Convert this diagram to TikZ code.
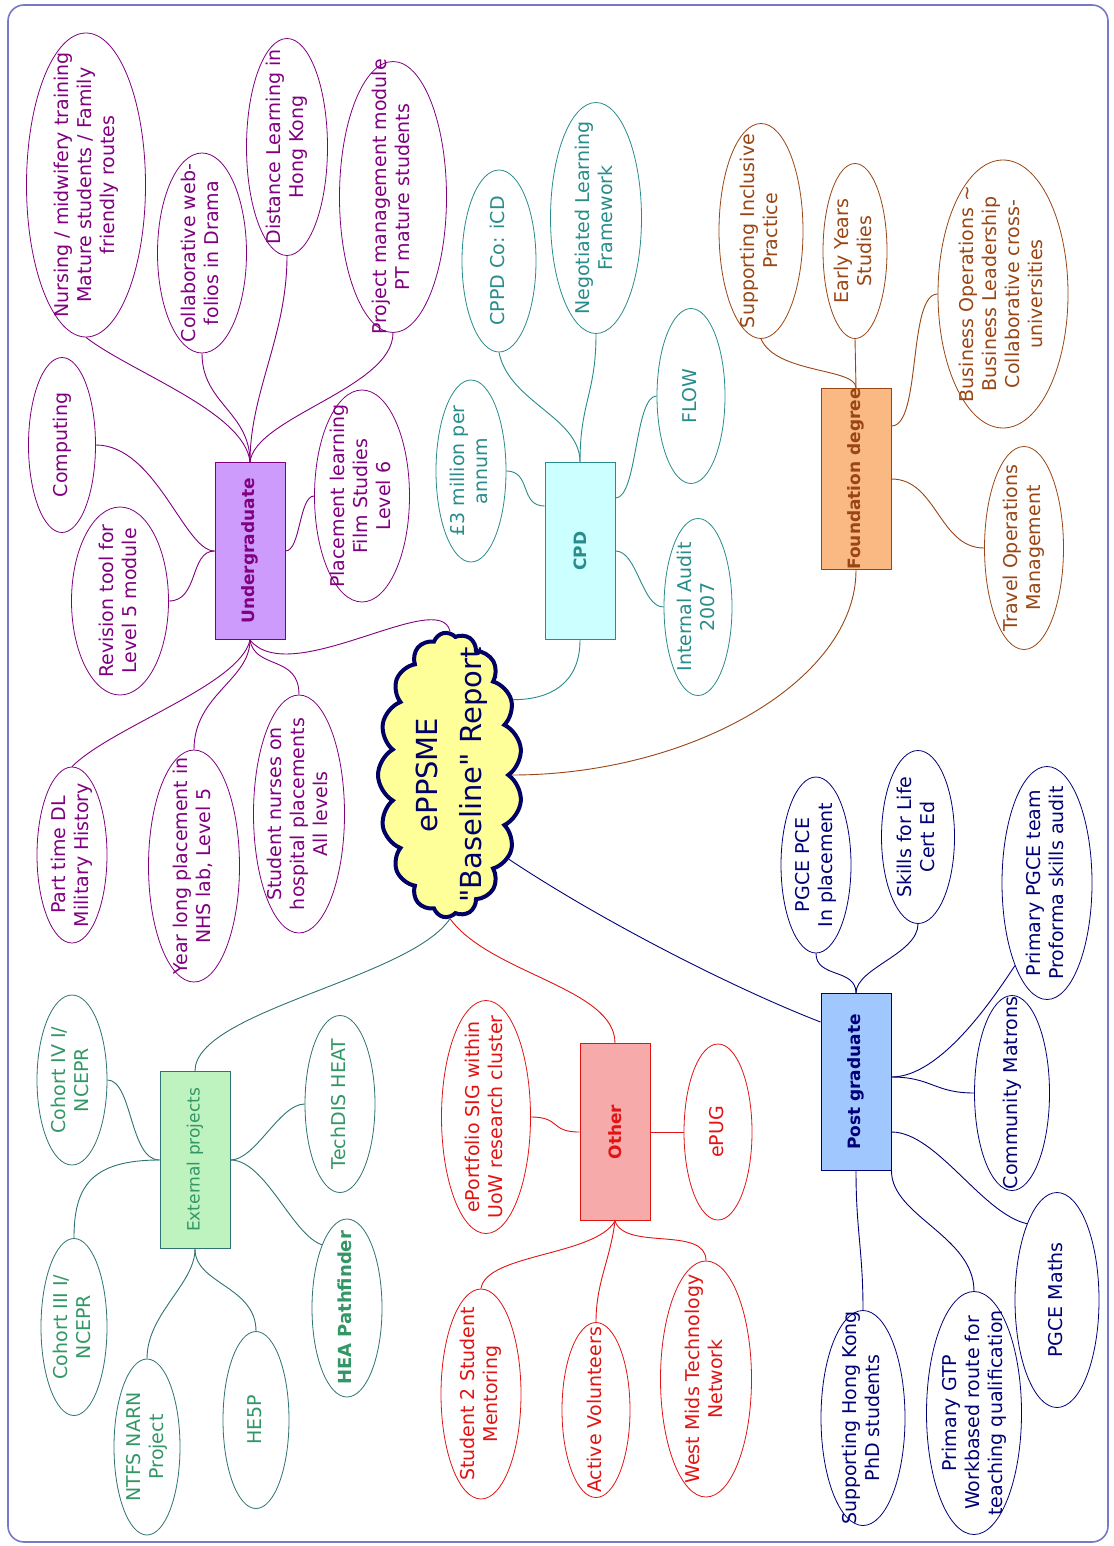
\documentclass[tikz,border=0pt]{standalone}
\usepackage{fontspec}
\setmainfont{DejaVu Sans}
\usetikzlibrary{shapes.geometric,shapes.symbols}

\definecolor{ugc}{RGB}{128,0,128}
\definecolor{ugfill}{RGB}{204,155,252}
\definecolor{cpdc}{RGB}{40,140,140}
\definecolor{cpdfill}{RGB}{204,255,255}
\definecolor{fdc}{RGB}{153,70,20}
\definecolor{fdfill}{RGB}{250,185,130}
\definecolor{pgc}{RGB}{0,0,120}
\definecolor{pgfill}{RGB}{160,200,255}
\definecolor{othc}{RGB}{225,20,20}
\definecolor{othfill}{RGB}{247,170,170}
\definecolor{extc}{RGB}{51,150,102}
\definecolor{extl}{RGB}{47,115,115}
\definecolor{extfill}{RGB}{190,242,190}
\definecolor{cloudfill}{RGB}{255,255,153}
\definecolor{cloudc}{RGB}{0,0,102}
\definecolor{framec}{RGB}{120,120,200}

\newcommand{\ideatext}[1]{\makebox[0pt]{\smash{\raisebox{-.25em}{\begin{tabular}{@{}c@{}}#1\end{tabular}}}}}

\tikzset{
  idea/.style={ellipse, draw, rotate=90, inner sep=0pt, line width=.8pt,
    font=\fontsize{19pt}{23pt}\selectfont},
  esize/.style 2 args={minimum height=#1pt, minimum width=#2pt},
  topic/.style={rectangle, draw, rotate=90, inner sep=0pt, line width=1pt,
    minimum width=177pt, minimum height=70pt,
    font=\bfseries\fontsize{17pt}{20pt}\selectfont},
  ugn/.style={draw=ugc, text=ugc},
  cpdn/.style={draw=cpdc, text=cpdc},
  fdn/.style={draw=fdc, text=fdc},
  pgn/.style={draw=pgc, text=pgc},
  othn/.style={draw=othc, text=othc},
  extn/.style={draw=extl, text=extc},
  link/.style={line width=.9pt},
}

\begin{document}
\begin{tikzpicture}[x=1pt, y=-1pt]
\fill[white] (0,0) rectangle (1113,1546);
\draw[framec, line width=1.6pt, rounded corners=16pt] (8,5) rectangle (1108,1542);

\node[cloud, cloud puffs=17, cloud puff arc=120, cloud ignores aspect, rotate=90,
  draw=cloudc, fill=cloudfill, text=cloudc, line width=4pt, inner sep=0pt,
  minimum width=285pt, minimum height=144pt,
  font=\fontsize{29pt}{44pt}\selectfont] (report) at (450,775)
  {\ideatext{ePPSME\\\textquotedbl Baseline\textquotedbl\ Report}};

% Undergraduate
\node[topic, draw=ugc, fill=ugfill, text=ugc] (ug) at (250,551) {Undergraduate};
\node[idea, ugn, esize={119}{304}] (nursing) at (86,185)
  {\ideatext{Nursing / midwifery training\\Mature students / Family\\friendly routes}};
\node[idea, ugn, esize={89}{200}] (collab) at (202,253)
  {\ideatext{Collaborative web-\\folios in Drama}};
\node[idea, ugn, esize={81}{217}] (distance) at (287,147)
  {\ideatext{Distance Learning in\\Hong Kong}};
\node[idea, ugn, esize={107}{271}] (projmod) at (393,197)
  {\ideatext{Project management module\\PT mature students}};
\node[idea, ugn, esize={67}{175}] (computing) at (62,445) {\ideatext{Computing}};
\node[idea, ugn, esize={97}{188}] (revision) at (120,601)
  {\ideatext{Revision tool for\\Level 5 module}};
\node[idea, ugn, esize={95}{212}] (placement) at (362,496)
  {\ideatext{Placement learning\\Film Studies\\Level 6}};
\node[idea, ugn, esize={70}{176}] (parttime) at (72,855)
  {\ideatext{Part time DL\\Military History}};
\node[idea, ugn, esize={91}{232}] (yearlong) at (194,866)
  {\ideatext{Year long placement in\\NHS lab, Level 5}};
\node[idea, ugn, esize={91}{238}] (nurses) at (299,814)
  {\ideatext{Student nurses on\\hospital placements\\All levels}};

\foreach \n/\a/\b/\c/\d in {nursing/-5/-50/45/35, collab/0/-50/0/50,
    distance/0/-70/0/80, projmod/5/-45/0/55}
  \draw[link, ugc] (ug.east) .. controls +(\a,\b) and +(\c,\d) .. (\n.west);
\draw[link, ugc] (ug.north) .. controls +(-30,0) and +(60,0) .. (computing.south);
\draw[link, ugc] (ug.north) .. controls +(-25,0) and +(30,0) .. (revision.south);
\draw[link, ugc] (ug.south) .. controls +(15,0) and +(-15,0) .. (placement.north);
\foreach \n/\a/\b/\c/\d in {parttime/-10/45/40/-40, yearlong/0/40/0/-55,
    nurses/5/30/0/-40}
  \draw[link, ugc] (ug.west) .. controls +(\a,\b) and +(\c,\d) .. (\n.east);
\draw[link, ugc] (ug.west) .. controls +(40,50) and +(-10,-45) .. (report.east);

% CPD
\node[topic, draw=cpdc, fill=cpdfill, text=cpdc] (cpd) at (580,551) {CPD};
\node[idea, cpdn, esize={74}{182}] (cppd) at (499,261) {\ideatext{CPPD Co: iCD}};
\node[idea, cpdn, esize={91}{231}] (nlf) at (596,218)
  {\ideatext{Negotiated Learning\\Framework}};
\node[idea, cpdn, esize={70}{182}] (money) at (471,471)
  {\ideatext{£3 million per\\annum}};
\node[idea, cpdn, esize={68}{175}] (flow) at (691,396) {\ideatext{FLOW}};
\node[idea, cpdn, esize={68}{177}] (audit) at (698,607)
  {\ideatext{Internal Audit\\2007}};

\draw[link, cpdc] (cpd.east) .. controls +(0,-45) and +(10,50) .. (cppd.west);
\draw[link, cpdc] (cpd.east) .. controls +(0,-60) and +(0,60) .. (nlf.west);
\draw[link, cpdc] ([yshift=45pt]cpd.north) .. controls +(-25,0) and +(25,0) .. (money.south);
\draw[link, cpdc] ([yshift=53pt]cpd.south) .. controls +(22,0) and +(-22,0) .. (flow.north);
\draw[link, cpdc] (cpd.south) .. controls +(22,0) and +(-22,0) .. (audit.north);
\draw[link, cpdc] (cpd.west) .. controls +(0,45) and +(35,0) .. (report.-40);

% Foundation degree
\node[topic, draw=fdc, fill=fdfill, text=fdc] (fd) at (856,479) {Foundation degree};
\node[idea, fdn, esize={84}{215}] (inclusive) at (761,231)
  {\ideatext{Supporting Inclusive\\Practice}};
\node[idea, fdn, esize={64}{175}] (earlyyears) at (855,251)
  {\ideatext{Early Years\\Studies}};
\node[idea, fdn, esize={130}{268}] (business) at (1003,294)
  {\ideatext{Business Operations \textasciitilde\\Business Leadership\\Collaborative cross-\\universities}};
\node[idea, fdn, esize={79}{203}] (travel) at (1024,548)
  {\ideatext{Travel Operations\\Management}};

\draw[link, fdc] (fd.east) .. controls +(0,-20) and +(15,35) .. (inclusive.west);
\draw[link, fdc] (fd.east) -- (earlyyears.west);
\draw[link, fdc] ([yshift=53pt]fd.south) .. controls +(30,0) and +(-30,0) .. (business.north);
\draw[link, fdc] (fd.south) .. controls +(45,0) and +(-45,0) .. (travel.north);
\draw[link, fdc] (report.south) .. controls +(180,0) and +(0,110) .. (fd.west);

% Post graduate
\node[topic, draw=pgc, fill=pgfill, text=pgc] (pg) at (856,1082) {Post graduate};
\node[idea, pgn, esize={70}{176}] (pgcepce) at (816,865)
  {\ideatext{PGCE PCE\\In placement}};
\node[idea, pgn, esize={73}{173}] (skills) at (918,837)
  {\ideatext{Skills for Life\\Cert Ed}};
\node[idea, pgn, esize={90}{233}] (ppgce) at (1047,883)
  {\ideatext{Primary PGCE team\\Proforma skills audit}};
\node[idea, pgn, esize={75}{195}] (matrons) at (1012,1093)
  {\ideatext{Community Matrons}};
\node[idea, pgn, esize={84}{215}] (maths) at (1057,1300) {\ideatext{PGCE Maths}};
\node[idea, pgn, esize={84}{215}] (hongkong) at (863,1418)
  {\ideatext{Supporting Hong Kong\\PhD students}};
\node[idea, pgn, esize={95}{243}] (gtp) at (974,1413)
  {\ideatext{Primary GTP\\Workbased route for\\teaching qualification}};

\draw[link, pgc] (pg.east) .. controls +(0,-25) and +(0,25) .. (pgcepce.west);
\draw[link, pgc] (pg.east) .. controls +(0,-25) and +(0,30) .. (skills.west);
\draw[link, pgc] ([yshift=5pt]pg.south) .. controls +(50,0) and +(-20,30) .. (ppgce.north west);
\draw[link, pgc] ([yshift=5pt]pg.south) .. controls +(40,0) and +(-40,0) .. (matrons.north);
\draw[link, pgc] ([yshift=-50pt]pg.south) .. controls +(45,0) and +(-45,-10) .. (maths.north east);
\draw[link, pgc] (pg.west) .. controls +(0,60) and +(0,-60) .. (hongkong.east);
\draw[link, pgc] (pg.south west) .. controls +(0,45) and +(0,-55) .. (gtp.east);
\draw[link, pgc] (report.-145) .. controls +(90,60) and +(-90,-35) .. ([yshift=60pt]pg.north);

% Other
\node[topic, draw=othc, fill=othfill, text=othc] (oth) at (615,1132) {Other};
\node[idea, othn, esize={89}{233}] (sig) at (486,1117)
  {\ideatext{ePortfolio SIG within\\UoW research cluster}};
\node[idea, othn, esize={68}{176}] (epug) at (718,1132) {\ideatext{ePUG}};
\node[idea, othn, esize={80}{210}] (s2s) at (481,1394)
  {\ideatext{Student 2 Student\\Mentoring}};
\node[idea, othn, esize={68}{175}] (volunteers) at (596,1410)
  {\ideatext{Active Volunteers}};
\node[idea, othn, esize={91}{236}] (westmids) at (706,1379)
  {\ideatext{West Mids Technology\\Network}};

\draw[link, othc] (report.west) .. controls +(40,55) and +(0,-55) .. (oth.east);
\draw[link, othc] (oth.north) .. controls +(-30,0) and +(30,0) .. (sig.south);
\draw[link, othc] (oth.south) -- (epug.north);
\draw[link, othc] (oth.west) .. controls +(-20,35) and +(5,-35) .. (s2s.east);
\draw[link, othc] (oth.west) .. controls +(-5,40) and +(0,-40) .. (volunteers.east);
\draw[link, othc] (oth.west) .. controls +(10,30) and +(0,-35) .. (westmids.east);

% External projects
\node[topic, draw=extl, fill=extfill, text=extc, font=\fontsize{17pt}{20pt}\selectfont]
  (ext) at (195,1160) {External projects};
\node[idea, extn, esize={70}{170}] (cohortiv) at (72,1080)
  {\ideatext{Cohort IV I/\\NCEPR}};
\node[idea, extn, esize={66}{177}] (cohortiii) at (74,1327)
  {\ideatext{Cohort III I/\\NCEPR}};
\node[idea, extn, esize={66}{176}] (ntfs) at (147,1447)
  {\ideatext{NTFS NARN\\Project}};
\node[idea, extn, esize={66}{177}] (hesp) at (256,1420) {\ideatext{HE5P}};
\node[idea, extn, esize={70}{178}, font=\bfseries\fontsize{18pt}{22pt}\selectfont]
  (heap) at (347,1308) {\ideatext{HEA Pathfinder}};
\node[idea, extn, esize={70}{177}] (techdis) at (340,1104) {\ideatext{TechDIS HEAT}};

\draw[link, extl] (report.west) .. controls +(-40,60) and +(0,-60) .. (ext.east);
\draw[link, extl] (ext.north) .. controls +(-30,0) and +(25,0) .. (cohortiv.south);
\draw[link, extl] (ext.north) .. controls +(-70,0) and +(0,-50) .. (cohortiii.east);
\draw[link, extl] (ext.west) .. controls +(0,35) and +(0,-45) .. (ntfs.east);
\draw[link, extl] (ext.west) .. controls +(0,35) and +(0,-45) .. (hesp.east);
\draw[link, extl] (ext.south) .. controls +(25,0) and +(-25,0) .. (techdis.north);
\draw[link, extl] (ext.south) .. controls +(35,0) and +(-30,-10) .. (heap.north east);
\end{tikzpicture}
\end{document}
